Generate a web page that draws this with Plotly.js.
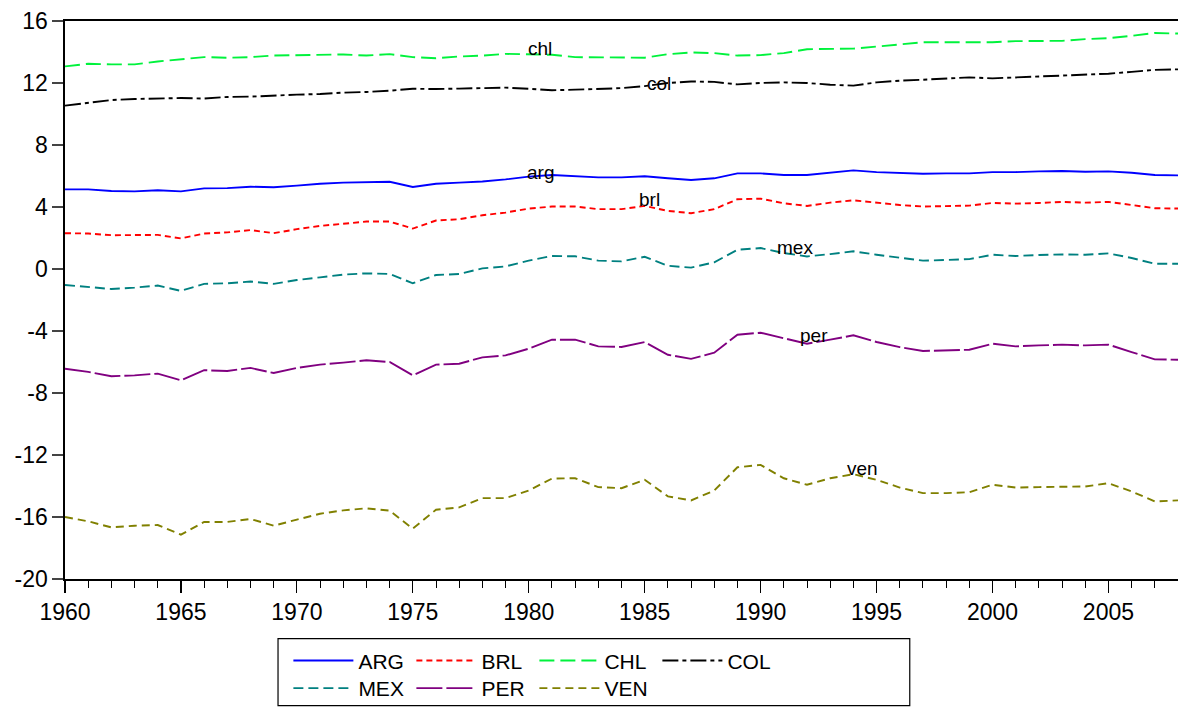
<!DOCTYPE html>
<html>
<head>
<meta charset="utf-8">
<script src="https://cdn.plot.ly/plotly-3.0.1.min.js"></script>
<style>html,body{margin:0;padding:0;background:#fff;}#chart{width:1178px;height:709px;}</style>
</head>
<body>
<div id="chart"></div>
<script>
const years = [1960,1961,1962,1963,1964,1965,1966,1967,1968,1969,
  1970,1971,1972,1973,1974,1975,1976,1977,1978,1979,
  1980,1981,1982,1983,1984,1985,1986,1987,1988,1989,
  1990,1991,1992,1993,1994,1995,1996,1997,1998,1999,
  2000,2001,2002,2003,2004,2005,2006,2007,2008];

const arg = [5.14,5.14,5.03,5.01,5.08,5.01,5.20,5.22,5.31,5.27,
  5.38,5.50,5.57,5.61,5.63,5.29,5.50,5.57,5.65,5.78,
  5.96,6.06,6.00,5.91,5.91,5.98,5.85,5.74,5.85,6.17,
  6.17,6.06,6.06,6.21,6.36,6.25,6.21,6.15,6.17,6.17,
  6.25,6.25,6.30,6.32,6.27,6.30,6.21,6.06,6.04];
const brl = [2.31,2.29,2.18,2.18,2.20,1.97,2.29,2.36,2.51,2.31,
  2.57,2.78,2.93,3.06,3.06,2.61,3.13,3.21,3.47,3.64,
  3.90,4.03,4.03,3.86,3.86,4.07,3.75,3.60,3.86,4.50,
  4.54,4.24,4.07,4.28,4.43,4.28,4.13,4.03,4.05,4.09,
  4.26,4.22,4.26,4.33,4.28,4.33,4.13,3.92,3.90];
const chl = [13.07,13.24,13.20,13.20,13.39,13.54,13.67,13.63,13.67,13.77,
  13.80,13.82,13.84,13.77,13.86,13.67,13.60,13.71,13.77,13.88,
  13.86,13.82,13.67,13.67,13.67,13.63,13.86,13.97,13.93,13.77,
  13.80,13.93,14.18,14.20,14.22,14.35,14.50,14.63,14.63,14.63,
  14.63,14.70,14.70,14.72,14.83,14.89,15.04,15.23,15.19];
const col = [10.54,10.71,10.90,10.97,11.00,11.03,11.00,11.10,11.12,11.20,
  11.25,11.29,11.38,11.42,11.50,11.63,11.61,11.64,11.67,11.70,
  11.63,11.53,11.57,11.61,11.67,11.80,12.00,12.10,12.07,11.91,
  12.00,12.04,12.00,11.89,11.83,12.04,12.15,12.21,12.27,12.36,
  12.30,12.36,12.42,12.46,12.53,12.60,12.72,12.85,12.88];
const mex = [-1.03,-1.16,-1.29,-1.20,-1.07,-1.41,-0.96,-0.92,-0.81,-0.96,
  -0.71,-0.54,-0.36,-0.28,-0.32,-0.92,-0.39,-0.32,0.04,0.17,
  0.54,0.84,0.82,0.54,0.49,0.79,0.21,0.09,0.43,1.24,
  1.35,1.03,0.81,0.96,1.14,0.92,0.71,0.54,0.58,0.64,
  0.92,0.84,0.90,0.94,0.92,1.01,0.71,0.34,0.34];
const per = [-6.43,-6.64,-6.92,-6.86,-6.75,-7.18,-6.53,-6.58,-6.38,-6.71,
  -6.38,-6.17,-6.04,-5.89,-6.00,-6.86,-6.17,-6.11,-5.70,-5.57,
  -5.14,-4.56,-4.56,-4.99,-5.03,-4.71,-5.53,-5.80,-5.40,-4.24,
  -4.11,-4.45,-4.82,-4.56,-4.28,-4.71,-5.04,-5.29,-5.27,-5.21,
  -4.82,-4.99,-4.93,-4.88,-4.93,-4.88,-5.36,-5.83,-5.85];
const ven = [-16.00,-16.28,-16.67,-16.56,-16.52,-17.14,-16.32,-16.32,-16.13,-16.56,
  -16.17,-15.79,-15.57,-15.44,-15.59,-16.75,-15.53,-15.38,-14.78,-14.78,
  -14.29,-13.52,-13.50,-14.07,-14.14,-13.60,-14.67,-14.93,-14.29,-12.79,
  -12.64,-13.50,-13.92,-13.50,-13.24,-13.60,-14.10,-14.46,-14.46,-14.40,
  -13.92,-14.10,-14.07,-14.03,-14.03,-13.82,-14.35,-15.00,-14.93];

const seriesNames = ["ARG","BRL","CHL","COL","MEX","PER","VEN"];
const seriesLabels = ["arg","brl","chl","col","mex","per","ven"];
const yTickVals = [-20,-16,-12,-8,-4,0,4,8,12,16];
const yTickText = ["-20","-16","-12","-8","-4","0","4","8","12","16"];
const xTickVals = [1960,1965,1970,1975,1980,1985,1990,1995,2000,2005];
const xTickText = ["1960","1965","1970","1975","1980","1985","1990","1995","2000","2005"];

const FONT = "Liberation Sans, Arial, Helvetica, sans-serif";
const values = [arg, brl, chl, col, mex, per, ven];
const styles = [
  {color:"#0000FF", dash:"solid", legend:"legend"},
  {color:"#FF0000", dash:"6px,4px", legend:"legend"},
  {color:"#00F23C", dash:"15px,6px", legend:"legend"},
  {color:"#000000", dash:"16px,4px,4px,4px", legend:"legend"},
  {color:"#008080", dash:"10px,5px", legend:"legend2"},
  {color:"#800080", dash:"26px,4px", legend:"legend2"},
  {color:"#808000", dash:"8px,5px", legend:"legend2"}
];

const traces = values.map((v, i) => ({
  x: years, y: v, type: "scatter", mode: "lines",
  name: seriesNames[i],
  legend: styles[i].legend,
  line: {color: styles[i].color, dash: styles[i].dash, width: 1.9},
  hoverinfo: "x+y+name"
}));

const labelPos = [
  [1980.5, 6.2], [1985.2, 4.5], [1980.5, 14.25], [1985.6, 11.95],
  [1991.5, 1.4], [1992.3, -4.3], [1994.4, -12.85]
];
const annotations = seriesLabels.map((t, i) => ({
  x: labelPos[i][0], y: labelPos[i][1], xref: "x", yref: "y",
  text: t, showarrow: false, font: {family: FONT, size: 19, color: "#000"}
}));

const legendCommon = {
  orientation: "h", xanchor: "left", yanchor: "top",
  entrywidth: 48, entrywidthmode: "pixels", itemwidth: 60,
  font: {family: FONT, size: 21, color: "#000"}, bgcolor: "rgba(0,0,0,0)", borderwidth: 0,
  tracegroupgap: 0
};

const layout = {
  width: 1178, height: 709,
  margin: {l: 65, r: 0, t: 21, b: 128},
  paper_bgcolor: "#fff", plot_bgcolor: "#fff",
  font: {family: FONT, size: 22, color: "#000"},
  showlegend: true,
  xaxis: {
    range: [1960, 2008], showgrid: false, zeroline: false,
    showline: true, linecolor: "#000", linewidth: 1.6, mirror: true,
    tickmode: "array", tickvals: xTickVals, ticktext: xTickText,
    ticks: "outside", ticklen: 12, tickwidth: 1.2, tickcolor: "#000",
    minor: {dtick: 1, tick0: 1960, ticks: "outside", ticklen: 7, tickwidth: 1, tickcolor: "#000", showgrid: false},
    tickfont: {family: FONT, size: 23, color: "#000"}
  },
  yaxis: {
    range: [-20, 16], showgrid: false, zeroline: false,
    showline: true, linecolor: "#000", linewidth: 1.6, mirror: true,
    tickmode: "array", tickvals: yTickVals, ticktext: yTickText,
    ticks: "outside", ticklen: 11, tickwidth: 1.2, tickcolor: "#444",
    tickfont: {family: FONT, size: 23, color: "#000"}
  },
  legend: Object.assign({}, legendCommon, {x: 0.2007, y: -0.11}),
  legend2: Object.assign({}, legendCommon, {x: 0.2007, y: -0.16}),
  shapes: [{
    type: "rect", xref: "paper", yref: "paper",
    x0: 0.1914, x1: 0.759, y0: -0.2268, y1: -0.107,
    line: {color: "#000", width: 1.2}, fillcolor: "rgba(0,0,0,0)", layer: "below"
  }],
  annotations: annotations
};

Plotly.newPlot("chart", traces, layout, {displayModeBar: false, staticPlot: true});
</script>
</body>
</html>
